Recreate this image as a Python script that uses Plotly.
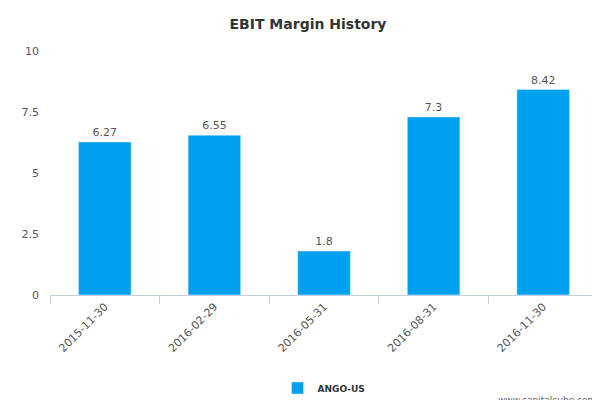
import plotly.graph_objs as go

dates = ['2015-11-30', '2016-02-29', '2016-05-31', '2016-08-31', '2016-11-30']
ebit_margin = [6.27, 6.55, 1.8, 7.3, 8.42]
labels = ['6.27', '6.55', '1.8', '7.3', '8.42']
y_ticks = [0, 2.5, 5, 7.5, 10]

fig = go.Figure()
fig.add_trace(go.Bar(
    x=dates, y=ebit_margin, name='ANGO-US',
    marker=dict(color='#00a0f0'), width=0.48,
    text=labels, textposition='outside', cliponaxis=False,
    textfont=dict(size=11, color='#555555'),
))
fig.update_layout(
    width=600, height=400,
    margin=dict(l=42, r=10, t=43, b=113),
    paper_bgcolor='white', plot_bgcolor='white',
    font=dict(family='DejaVu Sans', size=11, color='#555555'),
    title=dict(text='<b>EBIT Margin History</b>', x=0.5, xanchor='center',
               yref='container', y=0.96, yanchor='middle',
               font=dict(size=14, color='#333333')),
    showlegend=True,
    legend=dict(orientation='h', x=0.5, xanchor='center', yref='container',
                y=0.05, yanchor='middle',
                font=dict(size=9, color='#333333', family='DejaVu Sans')),
    xaxis=dict(type='category', tickangle=-45, showline=True, linecolor='#c0d0e0',
               ticks='outside', ticklen=8, tickcolor='#c0d0e0', tickson='boundaries',
               showgrid=False, automargin=False, tickfont=dict(size=11)),
    yaxis=dict(range=[0, 10], tickvals=y_ticks, ticktext=['0', '2.5', '5', '7.5', '10'],
               showgrid=False, zeroline=False, showline=False, automargin=False,
               tickfont=dict(size=11)),
    annotations=[dict(text='www.capitalcube.com', xref='paper', yref='paper',
                      x=1.0, y=-0.43, xanchor='right', yanchor='middle', showarrow=False,
                      font=dict(size=9, color='#666666'))],
)
fig.update_yaxes(ticklabelstandoff=10)
fig.data[0].name = '<b>ANGO-US</b>'
fig.write_html('out.html')
